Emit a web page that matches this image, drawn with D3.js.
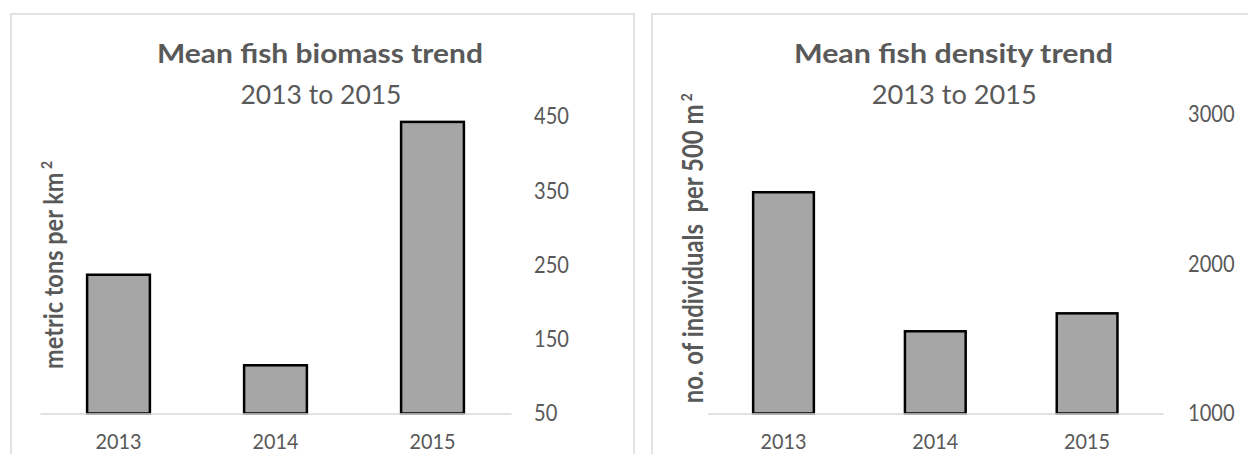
<!DOCTYPE html>
<html>
<head>
<meta charset="utf-8">
<script src="https://cdn.jsdelivr.net/npm/d3@7"></script>
<style>
  body { margin: 0; background: #ffffff; }
  svg { display: block; }
  text { font-family: Lato, "Open Sans", sans-serif; fill: #595959; }
</style>
</head>
<body>
<svg id="chart" width="1248" height="454"></svg>
<script>
// Survey years and the two fish indicators
const years = ["2013", "2014", "2015"];
const biomass = [237, 115, 443];          // metric tons per km²
const density = [2480, 1550, 1670];       // individuals per 500 m²
const biomassTicks = [50, 150, 250, 350, 450];
const densityTicks = [1000, 2000, 3000];

const svg = d3.select("#chart");

const panels = [
  {
    frameX: 11, frameW: 623,
    title: "Mean fish biomass trend", titleX: 320, titleW: 326,
    subtitle: "2013 to 2015", subX: 321, subW: 161,
    values: biomass, domain: [50, 450], ticks: biomassTicks,
    xRange: [40, 511], yRange: [413.5, 116.7], tickPad: 23,
    yLabel: "metric tons per km", yLabelX: 63.3, yLabelStart: 369, yLabelLen: 208, yLabelSize: 27
  },
  {
    frameX: 652, frameW: 623,
    title: "Mean fish density trend", titleX: 953.4, titleW: 319,
    subtitle: "2013 to 2015", subX: 954.3, subW: 165,
    values: density, domain: [1000, 3000], ticks: densityTicks,
    xRange: [707.6, 1163], yRange: [413.5, 114.5], tickPad: 25,
    yLabel: "no. of individuals  per 500 m", yLabelX: 703.3, yLabelStart: 403.3, yLabelLen: 310, yLabelSize: 28
  }
];

panels.forEach(p => {
  const g = svg.append("g");

  // chart frame (runs past the bottom/right of the view)
  g.append("rect")
    .attr("x", p.frameX).attr("y", 14)
    .attr("width", p.frameW).attr("height", 480)
    .attr("fill", "#ffffff")
    .attr("stroke", "#d9d9d9").attr("stroke-width", 1.5);

  // titles
  g.append("text")
    .attr("x", p.titleX).attr("y", 63)
    .attr("text-anchor", "middle")
    .attr("font-size", 26.5).attr("font-weight", "bold")
    .attr("textLength", p.titleW).attr("lengthAdjust", "spacingAndGlyphs")
    .text(p.title);
  g.append("text")
    .attr("x", p.subX).attr("y", 104)
    .attr("text-anchor", "middle")
    .attr("font-size", 26.5)
    .attr("textLength", p.subW).attr("lengthAdjust", "spacingAndGlyphs")
    .text(p.subtitle);

  const x = d3.scaleBand().domain(years).range(p.xRange)
    .paddingInner(0.6).paddingOuter(0.3);
  const y = d3.scaleLinear().domain(p.domain).range(p.yRange);
  const base = p.yRange[0];

  // bars
  g.selectAll("rect.bar")
    .data(years.map((yr, i) => ({ yr, v: p.values[i] })))
    .join("rect")
    .attr("class", "bar")
    .attr("x", d => x(d.yr))
    .attr("y", d => y(d.v))
    .attr("width", x.bandwidth())
    .attr("height", d => base - y(d.v))
    .attr("fill", "#a6a6a6")
    .attr("stroke", "#000000")
    .attr("stroke-width", 2.5);

  // category axis
  const xAxis = g.append("g")
    .attr("transform", `translate(0,${base})`)
    .call(d3.axisBottom(x).tickSize(0).tickPadding(20));
  xAxis.select(".domain").attr("stroke", "#d9d9d9").attr("stroke-width", 1.3);
  xAxis.selectAll("text")
    .attr("font-size", 22).attr("fill", "#595959")
    .attr("font-family", "Lato, 'Open Sans', sans-serif")
    .attr("textLength", d => d.length * 11.5).attr("lengthAdjust", "spacingAndGlyphs");

  // value axis on the right
  const yAxis = g.append("g")
    .attr("transform", `translate(${p.xRange[1]},0)`)
    .call(d3.axisRight(y).tickValues(p.ticks).tickSize(0).tickPadding(p.tickPad).tickFormat(d3.format("d")));
  yAxis.select(".domain").remove();
  yAxis.selectAll("text")
    .attr("font-size", 22.5).attr("fill", "#595959")
    .attr("font-family", "Lato, 'Open Sans', sans-serif")
    .attr("textLength", d => String(d).length * 11.65).attr("lengthAdjust", "spacingAndGlyphs");

  // rotated unit label with superscript
  const lab = g.append("text")
    .attr("transform", `translate(${p.yLabelX},${p.yLabelStart}) rotate(-90)`)
    .attr("font-size", p.yLabelSize).attr("font-weight", "bold")
    .style("white-space", "pre")
    .attr("textLength", p.yLabelLen).attr("lengthAdjust", "spacingAndGlyphs");
  lab.append("tspan").text(p.yLabel);
  lab.append("tspan").attr("dx", 4).attr("dy", -11).attr("font-size", 16).text("2");
});
</script>
</body>
</html>
